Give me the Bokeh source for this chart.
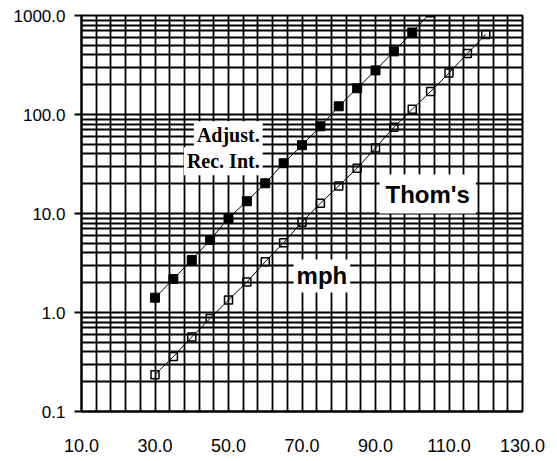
from bokeh.plotting import figure
from bokeh.models import Range1d, FixedTicker, PrintfTickFormatter, Label
from bokeh.embed import file_html
from bokeh.resources import INLINE

# Data
adj_x = [30, 35, 40, 45, 50, 55, 60, 65, 70, 75, 80, 85, 90, 95, 100, 105]
adj_y = [1.41, 2.18, 3.39, 5.4, 9.0, 13.3, 20.2, 32.2, 49, 76, 121, 184, 279, 434, 674, 1072]

thom_x = [30, 35, 40, 45, 50, 55, 60, 65, 70, 75, 80, 85, 90, 95, 100, 105, 110, 115, 120]
thom_y = [0.235, 0.359, 0.567, 0.87, 1.34, 2.03, 3.26, 5.07, 8.18, 12.7, 19.0, 28.7,
          45.9, 74.3, 113, 171, 262, 414, 643]

x_ticks = [10, 30, 50, 70, 90, 110, 130]
y_ticks = [0.1, 1, 10, 100, 1000]

x_grid = list(range(10, 131, 4))
y_minor = [m * d for d in [0.1, 1, 10, 100] for m in range(2, 10)]

p = figure(width=557, height=461, y_axis_type="log",
           x_range=Range1d(10, 130), y_range=Range1d(0.1, 1000),
           output_backend="svg", toolbar_location=None,
           min_border_left=81, min_border_right=35, min_border_top=15, min_border_bottom=50)

p.background_fill_color = "white"
p.outline_line_color = "black"
p.outline_line_width = 2

# axes
p.xaxis.ticker = FixedTicker(ticks=x_ticks)
p.xaxis.formatter = PrintfTickFormatter(format="%.1f")
p.xaxis.major_tick_out = 0
p.xaxis.major_tick_in = 0
p.xaxis.minor_tick_out = 0
p.xaxis.minor_tick_in = 0
p.xaxis.major_label_standoff = 27
p.xaxis.major_label_text_font = "Liberation Sans"
p.xaxis.major_label_text_font_size = "18px"
p.xaxis.major_label_text_color = "black"
p.xaxis.axis_line_width = 2

p.yaxis.ticker = FixedTicker(ticks=y_ticks, minor_ticks=y_minor)
p.yaxis.formatter = PrintfTickFormatter(format="%.1f")
p.yaxis.major_tick_out = 7
p.yaxis.major_tick_in = 0
p.yaxis.major_tick_line_width = 2
p.yaxis.minor_tick_out = 0
p.yaxis.minor_tick_in = 0
p.yaxis.major_label_standoff = 9
p.yaxis.major_label_text_font = "Liberation Sans"
p.yaxis.major_label_text_font_size = "17px"
p.yaxis.major_label_text_color = "black"
p.yaxis.axis_line_width = 2

# grids
p.xgrid.ticker = FixedTicker(ticks=x_grid)
p.xgrid.grid_line_color = "black"
p.xgrid.grid_line_width = 1.8
p.ygrid.ticker = FixedTicker(ticks=y_ticks, minor_ticks=y_minor)
p.ygrid.grid_line_color = "black"
p.ygrid.grid_line_width = 2
p.ygrid.minor_grid_line_color = "black"
p.ygrid.minor_grid_line_width = 1.8

# series
p.line(adj_x, adj_y, line_color="black", line_width=1)
p.scatter(adj_x, adj_y, marker="square", size=9, fill_color="black", line_color="black")

p.line(thom_x, thom_y, line_color="black", line_width=1)
p.scatter(thom_x, thom_y, marker="square", size=8, fill_alpha=0,
          line_color="black", line_width=1.5)

# text labels
serif = dict(text_font="Liberation Serif", text_font_style="bold", text_font_size="20px",
             text_color="black", background_fill_color="white", text_align="right",
             text_baseline="middle")
p.add_layout(Label(x=59.3, y=61.6, text="Adjust.", padding=3, **serif))
p.add_layout(Label(x=59.3, y=33.7, text="Rec. Int.", padding=3, **serif))

sans = dict(text_font="Liberation Sans", text_font_style="bold", text_font_size="24px",
            text_color="black", background_fill_color="white", text_align="left",
            text_baseline="middle")
p.add_layout(Label(x=91.1, y=15.7, text="Thom's", padding=6, **sans))
p.add_layout(Label(x=67.7, y=2.34, text="mph", padding=3, **sans))

open("out.html", "w").write(file_html(p, INLINE))
